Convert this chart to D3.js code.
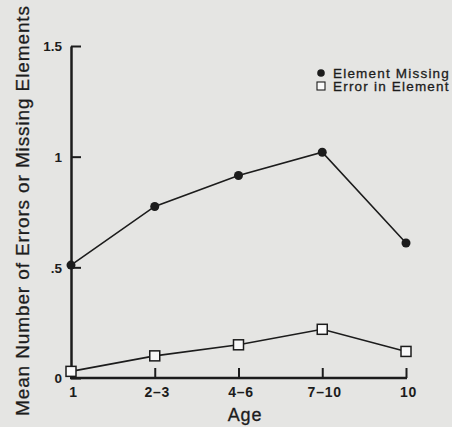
<!DOCTYPE html>
<html>
<head>
<meta charset="utf-8">
<script src="https://cdn.jsdelivr.net/npm/d3@7"></script>
<style>
  html, body { margin: 0; padding: 0; background: #e5e5e3; }
  svg { display: block; font-family: "Liberation Sans", Arial, Helvetica, sans-serif; }
</style>
</head>
<body>
<svg id="chart" width="452" height="427"></svg>
<script>
const ages = ["1", "2–3", "4–6", "7–10", "10"];
const elementMissing = [0.51, 0.775, 0.915, 1.02, 0.61];
const errorInElement = [0.03, 0.10, 0.15, 0.22, 0.12];
const yTicks = [0, 0.5, 1, 1.5];
const yTickLabels = ["0", ".5", "1", "1.5"];
const seriesNames = ["Element Missing", "Error in Element"];

const ink = "#1c1c1c";
const svg = d3.select("#chart");

const x = d3.scalePoint().domain(ages).range([71, 406]);
const y = d3.scaleLinear().domain([0, 1.5]).range([378, 46]);

// axes
const yAxis = d3.axisLeft(y)
  .tickValues(yTicks)
  .tickFormat((d, i) => yTickLabels[i])
  .tickSizeInner(-10).tickSizeOuter(0).tickPadding(9);
const gy = svg.append("g").attr("transform", "translate(71,0)").call(yAxis);
gy.attr("font-family", null);
gy.select(".domain").attr("stroke", ink).attr("stroke-width", 2.5);
gy.selectAll(".tick line").attr("stroke", ink).attr("stroke-width", 2);
gy.selectAll(".tick text").attr("fill", ink).attr("font-size", 13.5)
  .attr("font-weight", "bold").attr("dy", "0.36em");

const xAxis = d3.axisBottom(x)
  .tickSizeInner(-10).tickSizeOuter(0).tickPadding(9);
const gx = svg.append("g").attr("transform", "translate(0,378)").call(xAxis);
gx.attr("font-family", null);
gx.select(".domain").attr("stroke", ink).attr("stroke-width", 2.5)
  .attr("d", `M${x(ages[0]) - 1},0H${x(ages[ages.length - 1]) + 1}`);
gx.selectAll(".tick line").attr("stroke", ink).attr("stroke-width", 2);
gx.selectAll(".tick text").attr("fill", ink).attr("font-size", 14)
  .attr("font-weight", "bold").attr("letter-spacing", 0.8).attr("dx", 2);

// axis titles
svg.append("text")
  .attr("transform", "translate(29,211) rotate(-90)")
  .attr("text-anchor", "middle")
  .attr("font-size", 19)
  .attr("fill", ink).attr("stroke", ink).attr("stroke-width", 0.3)
  .attr("textLength", 410)
  .attr("lengthAdjust", "spacing")
  .text("Mean Number of Errors or Missing Elements");

svg.append("text")
  .attr("x", 245).attr("y", 421)
  .attr("text-anchor", "middle")
  .attr("font-size", 18)
  .attr("letter-spacing", 0.8)
  .attr("fill", ink).attr("stroke", ink).attr("stroke-width", 0.3)
  .text("Age");

// lines
const line = d3.line().x((d, i) => x(ages[i])).y(d => y(d));
svg.append("path").datum(elementMissing)
  .attr("d", line).attr("fill", "none").attr("stroke", ink).attr("stroke-width", 1.6);
svg.append("path").datum(errorInElement)
  .attr("d", line).attr("fill", "none").attr("stroke", ink).attr("stroke-width", 1.6);

// markers
svg.selectAll(".dot").data(elementMissing).enter().append("circle")
  .attr("cx", (d, i) => x(ages[i])).attr("cy", d => y(d))
  .attr("r", 4.5).attr("fill", ink);
const s = 10;
svg.selectAll(".sq").data(errorInElement).enter().append("rect")
  .attr("x", (d, i) => x(ages[i]) - s / 2).attr("y", d => y(d) - s / 2)
  .attr("width", s).attr("height", s)
  .attr("fill", "#fafafa").attr("stroke", ink).attr("stroke-width", 1.5);

// legend
const lg = svg.append("g");
lg.append("circle").attr("cx", 321).attr("cy", 73).attr("r", 3.8).attr("fill", ink);
lg.append("rect").attr("x", 317).attr("y", 82).attr("width", 8).attr("height", 8)
  .attr("fill", "#fafafa").attr("stroke", ink).attr("stroke-width", 1.1);
lg.selectAll(".lt").data(seriesNames).enter().append("text")
  .attr("x", 333).attr("y", (d, i) => 77.5 + i * 13.5)
  .attr("font-size", 13.5).attr("letter-spacing", 1.2)
  .attr("fill", ink).attr("stroke", ink).attr("stroke-width", 0.3)
  .text(d => d);
</script>
</body>
</html>
